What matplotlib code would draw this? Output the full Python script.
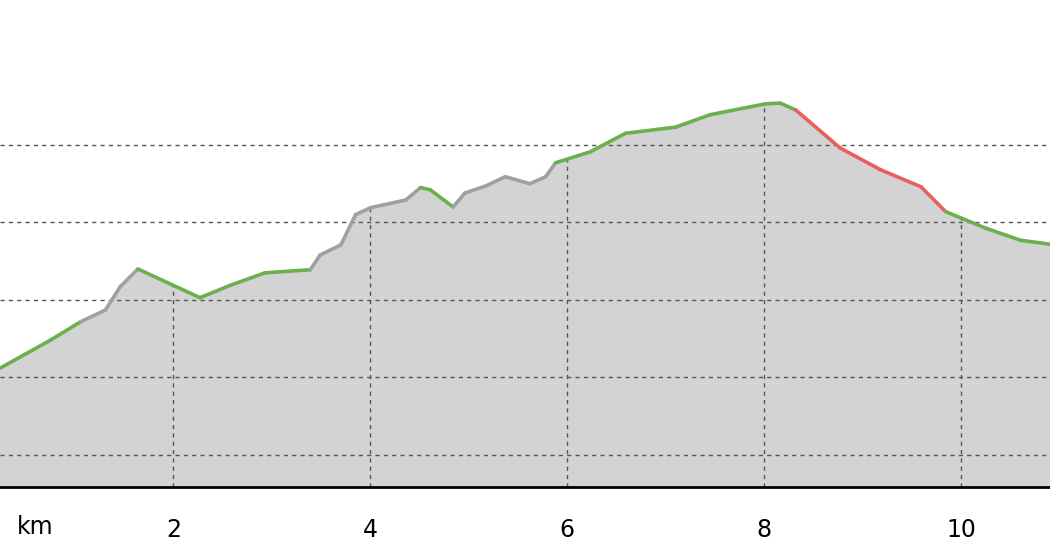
import matplotlib.pyplot as plt
import numpy as np

# distance (km) and elevation (m)
km = [0.24, 0.75, 1.06, 1.31, 1.46, 1.64, 2.27, 2.58, 2.93, 3.39, 3.49, 3.70, 3.85, 4.00,
      4.36, 4.51, 4.61, 4.84, 4.96, 5.17, 5.37, 5.62, 5.78, 5.88, 6.23, 6.59, 7.10, 7.45,
      8.01, 8.16, 8.32, 8.77, 9.18, 9.59, 9.84, 10.24, 10.60, 10.90]
elev = [212, 248, 272, 287, 317, 340, 303, 319, 335, 339, 358, 371, 410, 419,
        429, 445, 442, 420, 438, 447, 459, 450, 459, 477, 491, 515, 523, 539,
        553, 554, 545, 496, 468, 446, 414, 393, 377, 372]
# colour of the segment starting at each point (g=green, k=gray, r=red)
seg = "ggkkkggggkkkkkkggkkkkkkgggggggrrrrgggg"
xticks = [2, 4, 6, 8, 10]
yticks = [100, 200, 300, 400, 500]

colors = {"g": "#6ab04c", "k": "#a0a0a0", "r": "#e8605c"}
ybot = 58.7

fig = plt.figure(figsize=(10.5, 5.6), dpi=100)
ax = fig.add_axes([0, 73 / 560, 1, 487 / 560])

ax.fill_between(km, elev, ybot, color="#d3d3d3", zorder=1)
for y in yticks:
    ax.axhline(y, color="#555555", linestyle=(0, (3, 3)), linewidth=1, zorder=2)
# vertical grid only under the profile
for x in xticks:
    ax.plot([x, x], [ybot, np.interp(x, km, elev)], color="#555555",
            linestyle=(0, (3, 3)), linewidth=1, zorder=2)
for i in range(len(km) - 1):
    ax.plot(km[i:i + 2], elev[i:i + 2], color=colors[seg[i]], linewidth=2.6,
            solid_capstyle="round", zorder=3)

ax.set_xlim(0.24, 10.9)
ax.set_ylim(ybot, 687)
ax.set_xticks(xticks)
ax.set_yticks([])
for s in ["top", "left", "right"]:
    ax.spines[s].set_visible(False)
ax.spines["bottom"].set_linewidth(2)
ax.tick_params(axis="x", length=0, labelsize=17, pad=22)
fig.text(35 / 1050, 1 - 527 / 560, "km", fontsize=17, ha="center", va="center")

fig.savefig("out.png", dpi=100)
